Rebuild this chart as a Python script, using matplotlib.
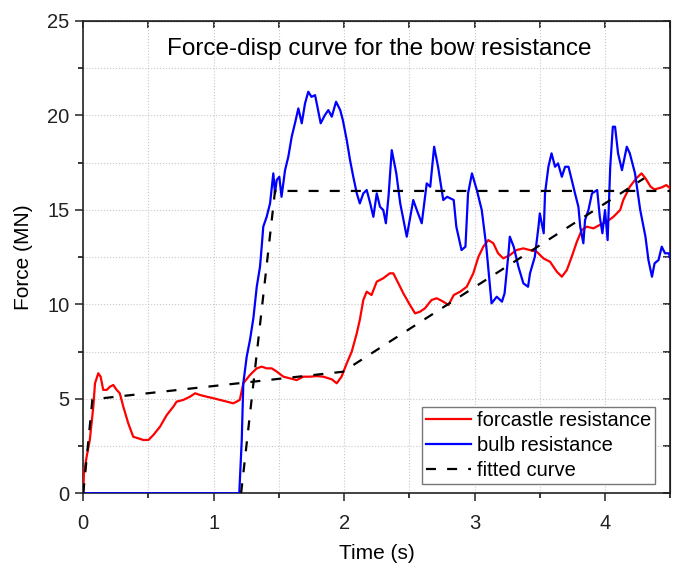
import matplotlib
matplotlib.use("Agg")
import matplotlib.pyplot as plt
from matplotlib.ticker import MultipleLocator

plt.rcParams["font.family"] = ["Liberation Sans", "DejaVu Sans"]

# forcastle resistance (red)
t_fore = [0, 0.005, 0.026, 0.05, 0.077, 0.09, 0.115, 0.133, 0.153, 0.18, 0.205, 0.23, 0.256,
          0.28, 0.307, 0.345, 0.383, 0.42, 0.46, 0.5, 0.537, 0.588, 0.64, 0.69, 0.716, 0.767,
          0.818, 0.857, 0.895, 0.946, 0.997, 1.048, 1.1, 1.15, 1.176, 1.2, 1.227, 1.278, 1.33,
          1.368, 1.406, 1.445, 1.483, 1.534, 1.585, 1.636, 1.687, 1.738, 1.79, 1.84, 1.905,
          1.943, 1.98, 2.02, 2.058, 2.097, 2.12, 2.147, 2.173, 2.21, 2.25, 2.3, 2.35, 2.377,
          2.416, 2.454, 2.505, 2.544, 2.582, 2.62, 2.67, 2.71, 2.76, 2.8, 2.84, 2.89, 2.94,
          2.99, 3.03, 3.067, 3.105, 3.144, 3.18, 3.22, 3.27, 3.32, 3.374, 3.425, 3.477, 3.528,
          3.579, 3.63, 3.669, 3.707, 3.745, 3.784, 3.822, 3.86, 3.911, 3.96, 4.013, 4.064,
          4.116, 4.14, 4.19, 4.24, 4.28, 4.31, 4.35, 4.38, 4.435, 4.47, 4.5]
f_fore = [0, 1.06, 1.94, 2.82, 4.58, 5.82, 6.35, 6.17, 5.47, 5.47, 5.64, 5.73, 5.47,
          5.29, 4.58, 3.70, 2.99, 2.91, 2.82, 2.82, 3.08, 3.52, 4.14, 4.58, 4.85, 4.94,
          5.11, 5.29, 5.2, 5.11, 5.03, 4.94, 4.85, 4.76, 4.85, 4.94, 5.82, 6.26, 6.61,
          6.7, 6.61, 6.61, 6.44, 6.17, 6.08, 5.99, 6.17, 6.17, 6.2, 6.17, 6.03,
          5.82, 6.17, 6.88, 7.49, 8.47, 9.17, 10.23, 10.67, 10.49, 11.2, 11.38, 11.64, 11.64,
          11.11, 10.58, 9.96, 9.52, 9.61, 9.79, 10.23, 10.32, 10.14, 9.96, 10.49, 10.67, 10.93,
          11.64, 12.52, 13.05, 13.4, 13.23, 12.7, 12.43, 12.6, 12.87, 12.96, 12.87, 12.78, 12.43,
          12.25, 11.73, 11.46, 11.81, 12.52, 13.31, 13.93, 14.11, 14.02, 14.2, 14.37, 14.63,
          14.99, 15.52, 16.22, 16.67, 16.93, 16.67, 16.22, 16.08, 16.19, 16.31, 16.14]

# bulb resistance (blue)
t_bulb = [0, 1.196, 1.215, 1.227, 1.253, 1.278, 1.304, 1.33, 1.355, 1.368, 1.38, 1.406, 1.432,
          1.457, 1.47, 1.483, 1.503, 1.52, 1.547, 1.572, 1.598, 1.623, 1.649, 1.675, 1.7,
          1.725, 1.75, 1.777, 1.795, 1.82, 1.853, 1.879, 1.905, 1.938, 1.97, 1.99, 2.02,
          2.045, 2.07, 2.097, 2.12, 2.147, 2.173, 2.2, 2.224, 2.25, 2.275, 2.3, 2.32, 2.34,
          2.365, 2.4, 2.43, 2.48, 2.53, 2.557, 2.595, 2.633, 2.66, 2.69, 2.72, 2.76, 2.79,
          2.84, 2.86, 2.9, 2.93, 2.95, 2.98, 3.017, 3.055, 3.09, 3.13, 3.17, 3.21, 3.23,
          3.26, 3.27, 3.3, 3.336, 3.374, 3.41, 3.425, 3.462, 3.49, 3.5, 3.53, 3.54, 3.566,
          3.59, 3.617, 3.64, 3.669, 3.694, 3.72, 3.745, 3.77, 3.796, 3.81, 3.834, 3.847,
          3.873, 3.9, 3.94, 3.96, 3.98, 4.0, 4.02, 4.04, 4.06, 4.077, 4.1, 4.13, 4.167,
          4.19, 4.23, 4.27, 4.31, 4.333, 4.36, 4.38, 4.41, 4.435, 4.46, 4.49, 4.5]
f_bulb = [0, 0, 2.82, 5.82, 7.23, 8.11, 9.26, 10.93, 11.99, 13.05, 14.11, 14.63, 15.34,
          16.93, 15.87, 16.58, 16.75, 15.69, 17.1, 17.81, 18.87, 19.58, 20.37, 19.58, 20.63,
          21.25, 20.98, 21.07, 20.46, 19.58, 20.02, 20.28, 19.93, 20.72, 20.28, 19.75, 18.69,
          17.64, 16.75, 15.87, 15.34, 15.87, 16.05, 15.34, 14.63, 15.87, 15.16, 14.99, 14.29, 15.69,
          18.16, 16.93, 15.34, 13.58, 15.52, 14.99, 14.29, 16.4, 16.22, 18.34, 17.28, 15.52, 15.69,
          15.52, 14.11, 12.87, 13.05, 15.87, 16.93, 16.05, 14.99, 13.05, 10.05, 10.4, 10.14, 10.58,
          12.7, 13.58, 13.05, 11.99, 11.11, 10.93, 11.64, 12.52, 14.11, 14.81, 13.76, 15.87, 17.28,
          17.99, 17.28, 17.46, 16.75, 17.28, 17.28, 16.58, 15.87, 15.16, 14.11, 13.23, 14.46,
          14.99, 15.87, 16.05, 14.63, 13.76, 14.99, 13.4, 17.28, 19.4, 19.4, 17.99, 17.1, 18.34,
          17.99, 16.93, 14.99, 13.58, 12.34, 11.46, 12.17, 12.34, 13.05, 12.7, 12.7, 12.43]

# fitted curves (black dashed)
t_fit_fore = [0, 0.07, 1.23, 1.99, 4.30]
f_fit_fore = [0, 4.97, 5.85, 6.43, 16.67]
t_fit_bulb = [1.21, 1.47, 4.5]
f_fit_bulb = [0, 16, 16]

fig = plt.figure(figsize=(6.77, 5.65), dpi=100)
ax = fig.add_axes([0.123, 0.127, 0.867, 0.836])

dash = (0, (4.5, 5))
ax.plot(t_fore, f_fore, color="red", lw=1.6, label="forcastle resistance", zorder=3)
ax.plot(t_bulb, f_bulb, color="blue", lw=1.6, label="bulb resistance", zorder=3)
ax.plot(t_fit_fore, f_fit_fore, color="black", lw=1.6, ls=dash, label="fitted curve", zorder=4)
ax.plot(t_fit_bulb, f_fit_bulb, color="black", lw=1.6, ls=dash, zorder=4)

ax.set_xlim(0, 4.5)
ax.set_ylim(0, 25)
ax.xaxis.set_major_locator(MultipleLocator(1))
ax.xaxis.set_minor_locator(MultipleLocator(0.5))
ax.yaxis.set_major_locator(MultipleLocator(5))
ax.yaxis.set_minor_locator(MultipleLocator(2.5))
ax.grid(which="both", color="#c8c8c8", ls=":", lw=0.8)
ax.tick_params(which="major", direction="out", length=6, width=1.1, labelsize=14.5,
               colors="#222222")
ax.tick_params(axis="x", which="major", pad=9)
ax.tick_params(axis="y", which="major", pad=4)
ax.tick_params(which="minor", direction="out", length=3.5, width=1.1)
for s in ax.spines.values():
    s.set_linewidth(1.2)
    s.set_color("#222222")

top = ax.secondary_xaxis("top")
top.xaxis.set_major_locator(MultipleLocator(0.5))
top.tick_params(direction="in", length=5, width=1.1, labeltop=False)
right = ax.secondary_yaxis("right")
right.yaxis.set_major_locator(MultipleLocator(2.5))
right.tick_params(direction="in", length=5, width=1.1, labelright=False)

ax.set_xlabel("Time (s)", fontsize=15, labelpad=8)
ax.set_ylabel("Force (MN)", fontsize=15, labelpad=10)
ax.text(0.505, 0.94, "Force-disp curve for the bow resistance", transform=ax.transAxes,
        ha="center", va="center", fontsize=17.5)

leg = ax.legend(loc="lower right", bbox_to_anchor=(0.974, 0.02), fontsize=14.5, fancybox=False,
                framealpha=1, edgecolor="#777777", handlelength=2.2, handletextpad=0.3,
                borderpad=0.2, borderaxespad=0.0, labelspacing=0.3)
leg.get_frame().set_linewidth(1.0)

fig.savefig("out.png", dpi=100)
